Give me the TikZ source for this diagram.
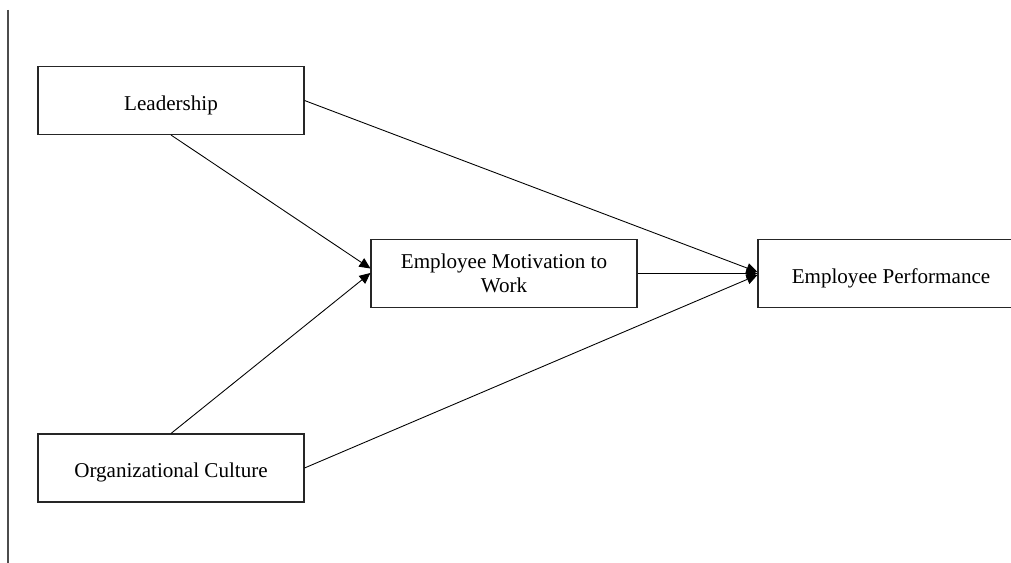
\documentclass[tikz,border=0pt]{standalone}
\usepackage{fontspec}
\setmainfont{Liberation Serif}
\usetikzlibrary{arrows.meta, positioning}

\begin{document}
\begin{tikzpicture}
\tikzstyle{factor} = [
	shape=rectangle,
	draw=black!85, %border of the box
	line width=0.6pt,
	minimum width=5.32cm, %all boxes same size
	minimum height=1.36cm,
	align=center,
	font=\fontsize{12}{14}\selectfont
];
\tikzstyle{oneline} = [
	factor,
	text height=14pt, %push single line text a little down
	text depth=2.7pt
];

\useasboundingbox (0,0) rectangle (20.22,-11.26);

%margin line on the left
\coordinate (Mtop) at (0.16,-0.2);
\coordinate (Mbot) at (0.16,-11.26);
\draw[line width=1pt, color=black!70] (Mtop) -- (Mbot);

\node[oneline](Le) at (3.42,-2.01) {Leadership};
\node[oneline](Oc) at (3.42,-9.36) {Organizational Culture};
\node[factor](Em) at (10.08,-5.47) {Employee Motivation to\\Work};
\node[oneline](Ep) at (17.82,-5.47) {Employee Performance};

%paths into motivation
\path[-{Triangle[length=2.2mm,width=2mm]}, line width=0.5pt, color=black]
	(Le.south) edge[] ([yshift=1mm]Em.west)
	(Oc.north) edge[] ([yshift=0.1mm]Em.west)
;

%paths into performance
\path[-{Triangle[length=2.2mm,width=2mm]}, line width=0.5pt, color=black]
	(Le.east) edge[] ([yshift=0.3mm]Ep.west)
	(Em.east) edge[] (Ep.west)
	(Oc.east) edge[] ([yshift=-0.3mm]Ep.west)
;
\end{tikzpicture}
\end{document}
